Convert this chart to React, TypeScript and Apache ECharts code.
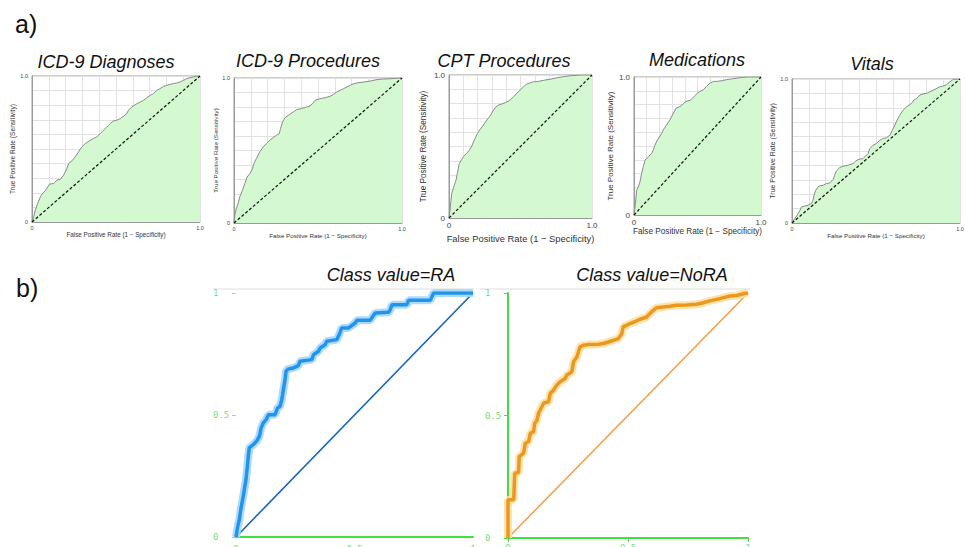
import React, { useEffect, useRef } from "react";
import * as echarts from "echarts";

// ---------- texts ----------
const panelTitles = ["ICD-9 Diagnoses", "ICD-9 Procedures", "CPT Procedures", "Medications", "Vitals"];
const xAxisName = "False Positive Rate (1 \u2212 Specificity)";
const yAxisName = "True Positive Rate (Sensitivity)";
const topTickLabels = ["0", "1.0"];
const bottomTickLabels = ["0", "0.5", "1"];
const bottomTitles = ["Class value=RA", "Class value=NoRA"];
const sectionLabels = ["a)", "b)"];

// ---------- data (FPR, TPR) ----------
const diagonal = [[0, 0], [1, 1]];

const rocDiagnoses = [[0,0],[0.01,0.036],[0.02,0.082],[0.034,0.128],[0.05,0.173],[0.059,0.191],[0.079,0.214],[0.105,0.26],[0.129,0.264],[0.149,0.287],[0.168,0.292],[0.188,0.321],[0.208,0.367],[0.218,0.401],[0.238,0.419],[0.257,0.446],[0.277,0.48],[0.297,0.515],[0.317,0.537],[0.347,0.56],[0.366,0.572],[0.386,0.583],[0.406,0.606],[0.426,0.629],[0.446,0.651],[0.465,0.674],[0.485,0.692],[0.505,0.697],[0.525,0.708],[0.545,0.724],[0.564,0.742],[0.574,0.765],[0.594,0.788],[0.624,0.81],[0.644,0.822],[0.663,0.833],[0.683,0.851],[0.703,0.867],[0.723,0.879],[0.743,0.902],[0.762,0.913],[0.782,0.929],[0.802,0.936],[0.822,0.943],[0.842,0.948],[0.861,0.952],[0.881,0.959],[0.901,0.97],[0.921,0.982],[0.941,0.989],[0.96,0.993],[0.98,0.998],[1,1]];

const rocIcdProcedures = [[0,0],[0.006,0.064],[0.014,0.099],[0.024,0.133],[0.034,0.179],[0.05,0.225],[0.064,0.271],[0.078,0.317],[0.094,0.34],[0.11,0.374],[0.118,0.409],[0.133,0.444],[0.153,0.49],[0.173,0.524],[0.193,0.547],[0.213,0.57],[0.233,0.589],[0.253,0.605],[0.269,0.616],[0.277,0.651],[0.289,0.697],[0.303,0.726],[0.323,0.743],[0.353,0.766],[0.373,0.782],[0.402,0.789],[0.432,0.8],[0.452,0.807],[0.472,0.828],[0.482,0.846],[0.512,0.857],[0.542,0.864],[0.572,0.874],[0.592,0.887],[0.611,0.903],[0.631,0.915],[0.651,0.926],[0.681,0.943],[0.701,0.956],[0.731,0.966],[0.771,0.972],[0.811,0.979],[0.851,0.989],[0.89,0.993],[0.93,0.995],[0.97,0.998],[1,1]];

const rocCpt = [[0,0],[0.007,0.054],[0.014,0.124],[0.019,0.171],[0.026,0.194],[0.037,0.229],[0.049,0.264],[0.058,0.311],[0.072,0.381],[0.089,0.409],[0.1,0.428],[0.124,0.452],[0.142,0.474],[0.159,0.502],[0.171,0.533],[0.182,0.556],[0.199,0.591],[0.217,0.619],[0.241,0.65],[0.264,0.685],[0.287,0.713],[0.311,0.755],[0.329,0.778],[0.346,0.79],[0.369,0.797],[0.393,0.806],[0.416,0.818],[0.432,0.829],[0.451,0.848],[0.474,0.871],[0.498,0.895],[0.521,0.918],[0.544,0.937],[0.568,0.946],[0.591,0.953],[0.614,0.953],[0.638,0.958],[0.673,0.965],[0.708,0.97],[0.755,0.981],[0.801,0.988],[0.848,0.995],[0.895,0.998],[0.941,1],[1,1]];

const rocMedications = [[0,0],[0.008,0.058],[0.016,0.131],[0.021,0.18],[0.034,0.204],[0.047,0.24],[0.06,0.301],[0.073,0.35],[0.087,0.398],[0.113,0.422],[0.139,0.447],[0.152,0.471],[0.165,0.507],[0.184,0.544],[0.199,0.563],[0.218,0.592],[0.231,0.617],[0.257,0.653],[0.283,0.69],[0.31,0.738],[0.331,0.774],[0.362,0.786],[0.388,0.806],[0.409,0.823],[0.441,0.83],[0.462,0.847],[0.48,0.864],[0.499,0.883],[0.52,0.896],[0.546,0.908],[0.572,0.932],[0.598,0.956],[0.625,0.968],[0.651,0.968],[0.69,0.973],[0.73,0.981],[0.782,0.988],[0.835,0.995],[0.887,1],[1,1]];

const rocVitals = [[0,0],[0.016,0.03],[0.03,0.053],[0.046,0.084],[0.056,0.111],[0.076,0.118],[0.095,0.123],[0.115,0.135],[0.125,0.158],[0.131,0.193],[0.141,0.227],[0.155,0.251],[0.165,0.258],[0.185,0.262],[0.205,0.274],[0.225,0.278],[0.245,0.302],[0.254,0.332],[0.264,0.362],[0.284,0.385],[0.304,0.394],[0.334,0.401],[0.364,0.413],[0.38,0.431],[0.394,0.441],[0.423,0.448],[0.453,0.483],[0.463,0.517],[0.483,0.541],[0.503,0.552],[0.523,0.575],[0.543,0.587],[0.563,0.592],[0.583,0.61],[0.598,0.645],[0.612,0.68],[0.626,0.715],[0.642,0.75],[0.662,0.784],[0.682,0.807],[0.712,0.831],[0.726,0.854],[0.742,0.865],[0.761,0.889],[0.781,0.896],[0.801,0.9],[0.821,0.912],[0.851,0.928],[0.881,0.947],[0.901,0.951],[0.92,0.961],[0.94,0.981],[0.96,0.998],[0.98,0.998],[1,1]];

const rocClassRA = [[0,0],[0.006,0.037],[0.014,0.071],[0.02,0.112],[0.028,0.153],[0.035,0.194],[0.042,0.235],[0.048,0.29],[0.052,0.331],[0.056,0.365],[0.073,0.379],[0.087,0.393],[0.099,0.413],[0.106,0.447],[0.115,0.467],[0.127,0.481],[0.137,0.501],[0.165,0.501],[0.175,0.529],[0.186,0.536],[0.193,0.563],[0.2,0.604],[0.207,0.645],[0.211,0.679],[0.221,0.689],[0.242,0.693],[0.263,0.702],[0.27,0.72],[0.32,0.727],[0.327,0.747],[0.348,0.761],[0.355,0.775],[0.376,0.788],[0.383,0.802],[0.425,0.809],[0.432,0.822],[0.439,0.839],[0.446,0.857],[0.475,0.857],[0.503,0.877],[0.51,0.888],[0.566,0.888],[0.577,0.904],[0.587,0.918],[0.644,0.921],[0.651,0.932],[0.658,0.952],[0.721,0.952],[0.728,0.97],[0.82,0.97],[0.827,0.986],[0.834,1],[1,1]];

const rocClassNoRA = [[0,0],[0,0.156],[0.024,0.156],[0.028,0.264],[0.044,0.267],[0.047,0.332],[0.065,0.346],[0.072,0.387],[0.086,0.394],[0.093,0.427],[0.107,0.434],[0.111,0.468],[0.121,0.482],[0.127,0.509],[0.141,0.536],[0.148,0.55],[0.169,0.556],[0.176,0.59],[0.19,0.604],[0.203,0.624],[0.217,0.638],[0.238,0.651],[0.245,0.665],[0.266,0.678],[0.273,0.719],[0.287,0.739],[0.3,0.78],[0.314,0.787],[0.335,0.79],[0.356,0.79],[0.377,0.791],[0.398,0.794],[0.418,0.8],[0.439,0.807],[0.46,0.814],[0.474,0.834],[0.48,0.862],[0.508,0.875],[0.536,0.886],[0.557,0.895],[0.578,0.902],[0.591,0.916],[0.605,0.929],[0.619,0.94],[0.647,0.943],[0.675,0.946],[0.702,0.95],[0.744,0.951],[0.786,0.954],[0.814,0.96],[0.841,0.968],[0.883,0.977],[0.925,0.988],[0.953,0.99],[0.981,0.997],[1,1]];

const topCurves = [rocDiagnoses, rocIcdProcedures, rocCpt, rocMedications, rocVitals];

// ---------- layout ----------
const topLayout = [
  { left: 32, top: 76, width: 168, height: 146, tickFs: 5.5, nameFsX: 6.3, nameFsY: 6.6, gapX: 8.5, gapY: 15, lblMargin: 3, tx: 106, ty: 62 },
  { left: 234, top: 78, width: 168, height: 145, tickFs: 5.5, nameFsX: 6.2, nameFsY: 6.2, gapX: 8.5, gapY: 14, lblMargin: 3, tx: 308, ty: 61 },
  { left: 449, top: 75, width: 143, height: 143, tickFs: 8, nameFsX: 9.4, nameFsY: 8.2, gapX: 16, gapY: 22, lblMargin: 3, tx: 504, ty: 61 },
  { left: 634, top: 77, width: 127, height: 138, tickFs: 8, nameFsX: 8.2, nameFsY: 8, gapX: 12.5, gapY: 17.5, lblMargin: 3, tx: 697, ty: 59.5 },
  { left: 792, top: 79, width: 168, height: 144, tickFs: 5.5, nameFsX: 6.2, nameFsY: 7, gapX: 6.5, gapY: 12.5, lblMargin: 3, tx: 872, ty: 64 },
];

const bottomLayout = [
  { left: 236, top: 293, width: 237, height: 244, xOffset: 4, showYLine: false, tx: 391, ty: 275, lineX1: 213, lineX2: 474 },
  { left: 508, top: 293, width: 240, height: 245, xOffset: 2, showYLine: true, tx: 652, ty: 275, lineX1: 480, lineX2: 750 },
];

const bottomColors = [
  { curve: "#1f95ee", halo: "#a9d6fa", diag: "#1763bf" },
  { curve: "#ec971d", halo: "#fbe1a4", diag: "#f5a04c" },
];

const GREEN = "#3fe03f";
const SANS = '"Liberation Sans", Arial, Helvetica, sans-serif';

function topFormatter(v: number) {
  if (Math.abs(v) < 1e-6) return topTickLabels[0];
  if (Math.abs(v - 1) < 1e-6) return topTickLabels[1];
  return "";
}
function bottomFormatter(v: number) {
  if (Math.abs(v) < 1e-6) return bottomTickLabels[0];
  if (Math.abs(v - 0.5) < 1e-6) return bottomTickLabels[1];
  return bottomTickLabels[2];
}

function buildOption() {
  const grid: any[] = [];
  const xAxis: any[] = [];
  const yAxis: any[] = [];
  const series: any[] = [];
  const graphic: any[] = [];

  topLayout.forEach((L, i) => {
    grid.push({ left: L.left, top: L.top, width: L.width, height: L.height, show: true, borderColor: "#9a9a9a", borderWidth: 1, backgroundColor: "#ffffff", containLabel: false, outerBoundsMode: "none" });
    const common = {
      gridIndex: i,
      type: "value",
      min: 0,
      max: 1,
      interval: 0.1,
      axisLine: { show: true, lineStyle: { color: "#9a9a9a", width: 1 } },
      axisTick: { show: false },
      splitLine: { show: true, lineStyle: { color: "#e2e2e2", width: 1 } },
      nameLocation: "middle",
    };
    xAxis.push({
      ...common,
      axisLabel: { formatter: topFormatter, fontSize: L.tickFs, color: "#444", margin: L.lblMargin, fontFamily: SANS, showMinLabel: true, showMaxLabel: true },
      name: xAxisName,
      nameGap: L.gapX,
      nameTextStyle: { fontSize: L.nameFsX, color: "#333", fontFamily: SANS },
    });
    yAxis.push({
      ...common,
      axisLabel: { formatter: topFormatter, fontSize: L.tickFs, color: "#444", margin: L.lblMargin + 1, fontFamily: SANS, showMinLabel: true, showMaxLabel: true },
      name: yAxisName,
      nameGap: L.gapY,
      nameTextStyle: { fontSize: L.nameFsY, color: "#333", fontFamily: SANS },
    });
    series.push({
      type: "line",
      xAxisIndex: i,
      yAxisIndex: i,
      data: topCurves[i],
      symbol: "none",
      lineStyle: { color: "#8a8a8a", width: 1 },
      areaStyle: { color: "#d4f8cf", opacity: 1 },
      z: 2,
    });
    series.push({
      type: "line",
      xAxisIndex: i,
      yAxisIndex: i,
      data: diagonal,
      symbol: "none",
      lineStyle: { color: "#111", width: 1.2, type: [3, 2] },
      z: 3,
    });
    graphic.push({
      type: "text",
      x: L.tx,
      y: L.ty,
      style: {
        text: panelTitles[i],
        fontSize: 18,
        fontStyle: "italic",
        fontFamily: SANS,
        fill: "#111",
        align: "center",
        verticalAlign: "middle",
        textAlign: "center",
        textVerticalAlign: "middle",
      },
    });
  });

  bottomLayout.forEach((L, j) => {
    const gi = topLayout.length + j;
    const C = bottomColors[j];
    grid.push({ left: L.left, top: L.top, width: L.width, height: L.height, show: false, containLabel: false, outerBoundsMode: "none" });
    xAxis.push({
      gridIndex: gi,
      type: "value",
      min: 0,
      max: 1,
      interval: 0.5,
      offset: L.xOffset,
      axisLine: { show: true, lineStyle: { color: GREEN, width: 2 } },
      axisTick: { show: j === 1, length: 4, lineStyle: { color: GREEN } },
      splitLine: { show: false },
      axisLabel: { formatter: bottomFormatter, fontSize: 9, color: "#7ddc7d", margin: 3, fontFamily: '"DejaVu Sans Mono", monospace' },
    });
    yAxis.push({
      gridIndex: gi,
      type: "value",
      min: 0,
      max: 1,
      interval: 0.5,
      axisLine: { show: L.showYLine, lineStyle: { color: GREEN, width: 2 } },
      axisTick: { show: true, length: 4, lineStyle: { color: j === 0 ? "#9bd89b" : GREEN } },
      splitLine: { show: false },
      axisLabel: { formatter: bottomFormatter, fontSize: 9, color: "#7ddc7d", margin: 23, align: "left", fontFamily: '"DejaVu Sans Mono", monospace' },
    });
    series.push({
      type: "line",
      xAxisIndex: gi,
      yAxisIndex: gi,
      data: diagonal,
      symbol: "none",
      lineStyle: { color: C.diag, width: 1.6 },
      z: 2,
    });
    series.push({
      type: "line",
      xAxisIndex: gi,
      yAxisIndex: gi,
      data: j === 0 ? rocClassRA : rocClassNoRA,
      symbol: "none",
      lineStyle: { color: C.halo, width: 8, opacity: 0.9 },
      z: 3,
    });
    series.push({
      type: "line",
      xAxisIndex: gi,
      yAxisIndex: gi,
      data: j === 0 ? rocClassRA : rocClassNoRA,
      symbol: "none",
      lineStyle: { color: C.curve, width: 3.5 },
      z: 4,
    });
    graphic.push({
      type: "text",
      x: L.tx,
      y: L.ty,
      style: {
        text: bottomTitles[j],
        fontSize: 18,
        fontStyle: "italic",
        fontFamily: SANS,
        fill: "#111",
        align: "center",
        verticalAlign: "middle",
        textAlign: "center",
        textVerticalAlign: "middle",
      },
    });
    graphic.push({
      type: "line",
      shape: { x1: L.lineX1, y1: 289, x2: L.lineX2, y2: 289 },
      style: { stroke: "#dcdcdc", lineWidth: 1 },
    });
  });

  graphic.push({
    type: "text",
    x: 15,
    y: 24,
    style: { text: sectionLabels[0], fontSize: 25, fontFamily: SANS, fill: "#111", align: "left", verticalAlign: "middle", textAlign: "left", textVerticalAlign: "middle" },
  });
  graphic.push({
    type: "text",
    x: 16,
    y: 288,
    style: { text: sectionLabels[1], fontSize: 25, fontFamily: SANS, fill: "#111", align: "left", verticalAlign: "middle", textAlign: "left", textVerticalAlign: "middle" },
  });

  return {
    animation: false,
    backgroundColor: "#ffffff",
    grid,
    xAxis,
    yAxis,
    series,
    graphic,
  };
}

export default function App() {
  const ref = useRef<HTMLDivElement>(null);
  useEffect(() => {
    if (!ref.current) return;
    const chart = echarts.init(ref.current, undefined, { renderer: "svg" });
    chart.setOption(buildOption() as any);
    return () => chart.dispose();
  }, []);
  return (
    <div
      ref={ref}
      style={{ position: "fixed", left: 0, top: 0, width: 965, height: 547, background: "#fff" }}
    />
  );
}
